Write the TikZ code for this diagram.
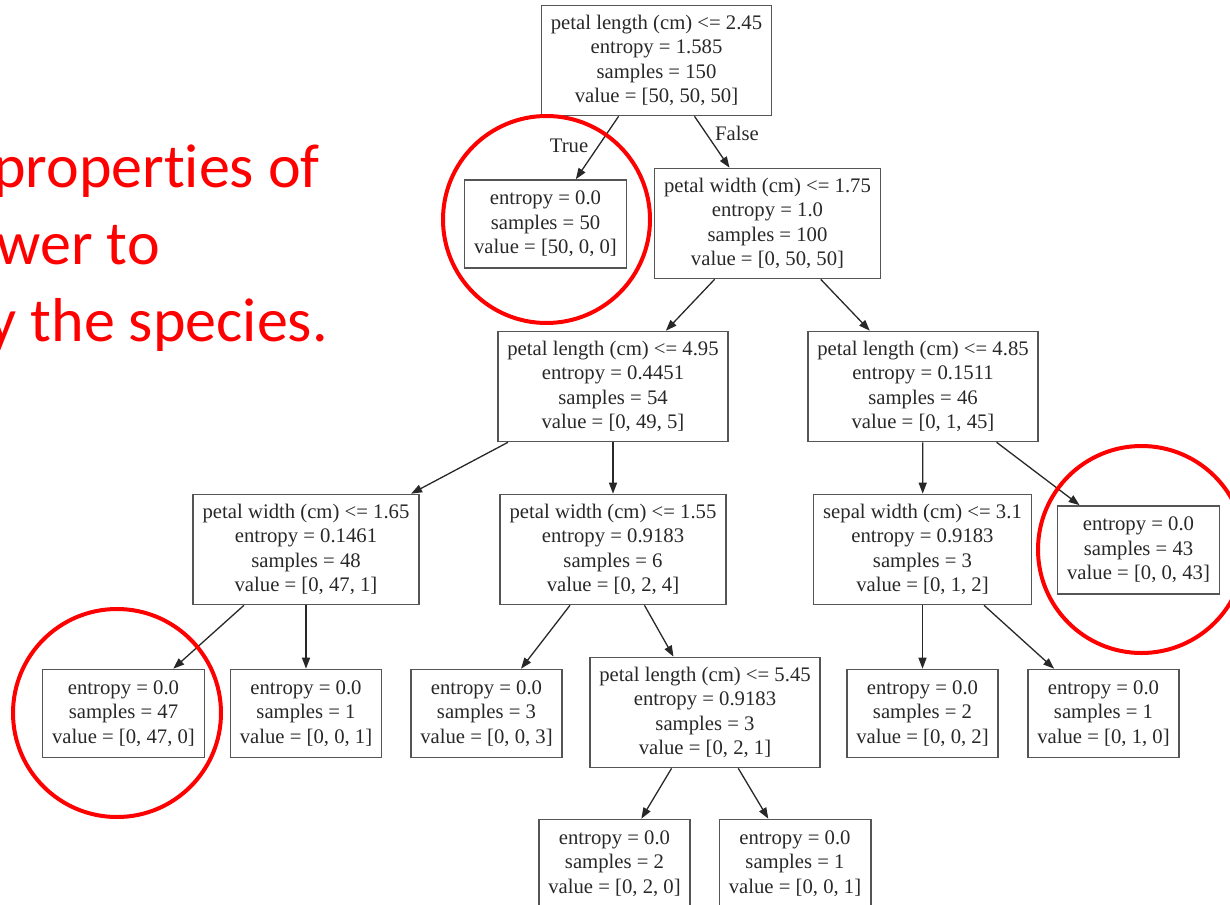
\documentclass[tikz,border=0pt]{standalone}
\usepackage{fontspec}
\setmainfont{Liberation Serif}
\newfontfamily\notefont[Ligatures=NoCommon]{Carlito}
\usetikzlibrary{arrows.meta}
\definecolor{boxline}{RGB}{85,85,85}
\definecolor{ink}{RGB}{40,40,40}
\definecolor{mark}{RGB}{255,0,0}

\begin{document}
\begin{tikzpicture}[x=1pt,y=-1pt,
  split/.style={draw=boxline, line width=1.6pt, align=center, text=ink,
    font=\fontsize{20.7}{24.5}\selectfont, inner xsep=9.5pt, inner ysep=0pt,
    minimum height=110pt},
  leaf/.style={split, minimum height=88pt},
  branch/.style={draw=ink, line width=1.3pt, -{Triangle[length=11pt,width=8pt]}},
  ring/.style={draw=mark, line width=4pt},
  note/.style={text=mark, font=\notefont\fontsize{62}{76}\selectfont,
    inner sep=0pt, anchor=base east},
  tag/.style={text=ink, font=\fontsize{20.7}{24.5}\selectfont, inner sep=0pt}
]
\useasboundingbox (0,0) rectangle (1230,904);

% side remark, running off the left edge
\node[note] (n1) at (320,187) {properties of};
\node[note] (n2) at (160,264) {wer to};
\node[note] (n3) at (328,341) {y the species.};

% decision tree
\node[split] (root) at (656.5,60.5)
  {petal length (cm) <= 2.45\\entropy = 1.585\\samples = 150\\value = [50, 50, 50]};
\node[leaf] (setosa) at (545.5,224)
  {entropy = 0.0\\samples = 50\\value = [50, 0, 0]};
\node[split] (pw175) at (767.5,223.5)
  {petal width (cm) <= 1.75\\entropy = 1.0\\samples = 100\\value = [0, 50, 50]};
\node[split] (pl495) at (613,386.5)
  {petal length (cm) <= 4.95\\entropy = 0.4451\\samples = 54\\value = [0, 49, 5]};
\node[split] (pl485) at (923,386.5)
  {petal length (cm) <= 4.85\\entropy = 0.1511\\samples = 46\\value = [0, 1, 45]};
\node[split] (pw165) at (306,549.5)
  {petal width (cm) <= 1.65\\entropy = 0.1461\\samples = 48\\value = [0, 47, 1]};
\node[split] (pw155) at (613,549.5)
  {petal width (cm) <= 1.55\\entropy = 0.9183\\samples = 6\\value = [0, 2, 4]};
\node[split] (sw31) at (922.5,549.5)
  {sepal width (cm) <= 3.1\\entropy = 0.9183\\samples = 3\\value = [0, 1, 2]};
\node[leaf] (l43) at (1138.5,550)
  {entropy = 0.0\\samples = 43\\value = [0, 0, 43]};
\node[leaf] (l47) at (123.5,713.5)
  {entropy = 0.0\\samples = 47\\value = [0, 47, 0]};
\node[leaf] (l1a) at (306,713.5)
  {entropy = 0.0\\samples = 1\\value = [0, 0, 1]};
\node[leaf] (l3) at (486.5,713.5)
  {entropy = 0.0\\samples = 3\\value = [0, 0, 3]};
\node[split] (pl545) at (705,712.5)
  {petal length (cm) <= 5.45\\entropy = 0.9183\\samples = 3\\value = [0, 2, 1]};
\node[leaf] (l2a) at (922.5,713.5)
  {entropy = 0.0\\samples = 2\\value = [0, 0, 2]};
\node[leaf] (l1b) at (1103.5,713.5)
  {entropy = 0.0\\samples = 1\\value = [0, 1, 0]};
\node[leaf] (l2b) at (614.5,863.5)
  {entropy = 0.0\\samples = 2\\value = [0, 2, 0]};
\node[leaf] (l1c) at (795,863.5)
  {entropy = 0.0\\samples = 1\\value = [0, 0, 1]};

% branches
\draw[branch] (root) -- (setosa);
\draw[branch] (root) -- (pw175);
\draw[branch] (pw175) -- (pl495);
\draw[branch] (pw175) -- (pl485);
\draw[branch] (pl495) -- (pw165);
\draw[branch] (pl495) -- (pw155);
\draw[branch] (pl485) -- (sw31);
\draw[branch] (pl485) -- (l43);
\draw[branch] (pw165) -- (l47);
\draw[branch] (pw165) -- (l1a);
\draw[branch] (pw155) -- (l3);
\draw[branch] (pw155) -- (pl545);
\draw[branch] (sw31) -- (l2a);
\draw[branch] (sw31) -- (l1b);
\draw[branch] (pl545) -- (l2b);
\draw[branch] (pl545) -- (l1c);

\node[tag] (yes) at (569,146) {True};
\node[tag] (no) at (737,133) {False};

% highlighted pure leaves
\draw[ring] (546.5,219.5) circle[radius=103.5pt];
\draw[ring] (117,713) circle[radius=104pt];
\draw[ring] (1141.5,549.5) circle[radius=103.5pt];
\end{tikzpicture}
\end{document}
